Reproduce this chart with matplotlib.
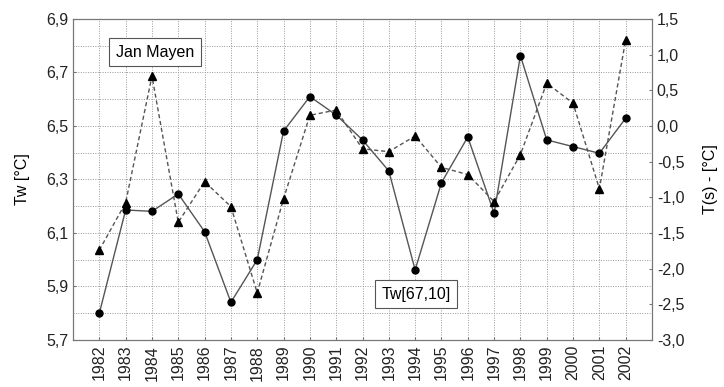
import numpy as np
import matplotlib
matplotlib.use("Agg")
import matplotlib.pyplot as plt
from matplotlib.ticker import FuncFormatter

years = list(range(1982, 2003))
# Tw[67,10] (left axis, solid line, circles)
tw = [5.80, 6.186, 6.181, 6.246, 6.105, 5.841, 6.000, 6.481, 6.610, 6.541, 6.448,
      6.332, 5.962, 6.288, 6.459, 6.174, 6.763, 6.448, 6.423, 6.398, 6.529]
# Jan Mayen T(s) (right axis, dashed line, triangles)
ts = [-1.74, -1.075, 0.70, -1.35, -0.78, -1.13, -2.34, -1.02, 0.15, 0.224, -0.32,
      -0.36, -0.14, -0.58, -0.68, -1.06, -0.40, 0.60, 0.32, -0.88, 1.21]

plt.rcParams['font.family'] = ['Liberation Sans', 'DejaVu Sans']
plt.rcParams['font.size'] = 10

comma = FuncFormatter(lambda v, p: f"{v:.1f}".replace(".", ","))

fig = plt.figure(figsize=(7.24, 3.87), dpi=100)
ax = fig.add_axes([73/724, 1 - 340/387, (652-73)/724, (340-19)/387])
ax2 = ax.twinx()

ax.plot(years, tw, color="#555555", lw=1.0, marker="o", ms=5,
        mfc="black", mec="black", zorder=3)
ax2.plot(years, ts, color="#555555", lw=1.0, ls=(0, (3, 2)), marker="^", ms=6,
         mfc="black", mec="black", zorder=3)

ax.set_xlim(1981, 2003)
ax.set_ylim(5.7, 6.9)
ax2.set_ylim(-3.0, 1.5)

ax.set_xticks(years)
ax.set_xticklabels([str(y) for y in years], rotation=90)
ax.set_yticks(np.arange(5.7, 6.91, 0.2))
ax.set_yticks(np.arange(5.7, 6.91, 0.1), minor=True)
ax.yaxis.set_major_formatter(comma)
ax2.set_yticks(np.arange(-3.0, 1.51, 0.5))
ax2.yaxis.set_major_formatter(comma)

ax.grid(True, which="both", axis="y", ls=(0, (1, 1.5)), color="#999999", lw=0.7)
ax.grid(True, which="major", axis="x", ls=(0, (1, 1.5)), color="#999999", lw=0.7)
ax.set_axisbelow(True)

ax.tick_params(axis="both", which="both", length=2, direction="in", colors="#777777",
               labelcolor="#222222", labelsize=11.5)
ax.tick_params(axis="y", which="minor", length=0)
ax2.tick_params(axis="y", length=2, direction="in", colors="#777777",
                labelcolor="#222222", labelsize=11.5)
for a in (ax, ax2):
    for s in a.spines.values():
        s.set_color("#777777")

ax.set_ylabel("Tw [°C]", fontsize=11.5)
ax.yaxis.set_label_coords(-0.075, 0.5)
ax2.set_ylabel("T(s) - [°C]", fontsize=11.5, rotation=90)
ax2.yaxis.set_label_coords(1.088, 0.5)

box = dict(boxstyle="square,pad=0.4", fc="white", ec="#555555", lw=0.8)
ax.text(155/724, 1 - 52/387, "Jan Mayen", transform=fig.transFigure,
        ha="center", va="center", fontsize=11.5, bbox=box, zorder=5)
ax.text(416/724, 1 - 294/387, "Tw[67,10]", transform=fig.transFigure,
        ha="center", va="center", fontsize=11.5, bbox=box, zorder=5)

fig.savefig("out.png", dpi=100)
